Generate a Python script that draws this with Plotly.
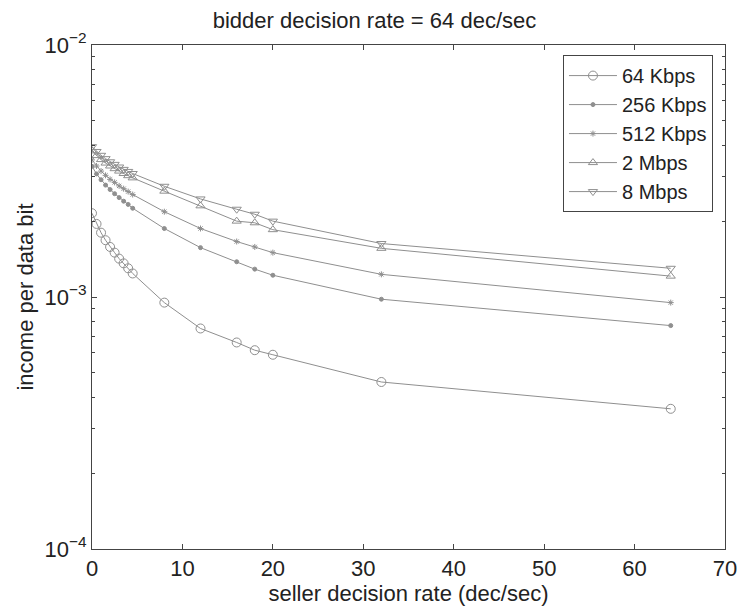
import plotly.graph_objects as go

x_rate = [0, 0.5, 1, 1.5, 2, 2.5, 3, 3.5, 4, 4.5, 8, 12, 16, 18, 20, 32, 64]

kbps64 = [2.15e-3, 1.95e-3, 1.80e-3, 1.68e-3, 1.58e-3, 1.50e-3, 1.42e-3, 1.36e-3, 1.30e-3, 1.24e-3,
          9.5e-4, 7.5e-4, 6.6e-4, 6.15e-4, 5.9e-4, 4.6e-4, 3.6e-4]
kbps256 = [3.30e-3, 3.08e-3, 2.92e-3, 2.78e-3, 2.67e-3, 2.57e-3, 2.48e-3, 2.40e-3, 2.33e-3, 2.25e-3,
           1.87e-3, 1.57e-3, 1.38e-3, 1.29e-3, 1.22e-3, 9.8e-4, 7.7e-4]
kbps512 = [3.50e-3, 3.31e-3, 3.16e-3, 3.04e-3, 2.93e-3, 2.85e-3, 2.76e-3, 2.69e-3, 2.62e-3, 2.55e-3,
           2.18e-3, 1.87e-3, 1.66e-3, 1.58e-3, 1.50e-3, 1.23e-3, 9.5e-4]
mbps2 = [3.80e-3, 3.64e-3, 3.51e-3, 3.40e-3, 3.31e-3, 3.23e-3, 3.16e-3, 3.09e-3, 3.03e-3, 2.97e-3,
         2.63e-3, 2.30e-3, 2.00e-3, 1.97e-3, 1.85e-3, 1.56e-3, 1.21e-3]
mbps8 = [3.95e-3, 3.78e-3, 3.65e-3, 3.54e-3, 3.44e-3, 3.36e-3, 3.28e-3, 3.21e-3, 3.15e-3, 3.09e-3,
         2.75e-3, 2.45e-3, 2.23e-3, 2.13e-3, 2.00e-3, 1.63e-3, 1.30e-3]

series_names = ["64 Kbps", "256 Kbps", "512 Kbps", "2 Mbps", "8 Mbps"]
series_vals = [kbps64, kbps256, kbps512, mbps2, mbps8]
series_symbols = ["circle-open", "circle", "asterisk-open", "triangle-up-open", "triangle-down-open"]
series_sizes = [9, 4, 5, 8, 8]

x_ticks = [0, 10, 20, 30, 40, 50, 60, 70]
y_ticks = [1e-4, 1e-3, 1e-2]
y_ticktext = ["10<sup>−4</sup>", "10<sup>−3</sup>", "10<sup>−2</sup>"]
y_minor = [m * 10.0 ** e for e in (-4, -3) for m in range(2, 10)]

grey = "#8f8f8f"
font_family = "Liberation Sans, Arial, sans-serif"

fig = go.Figure()
for name, vals, sym, sz in zip(series_names, series_vals, series_symbols, series_sizes):
    fig.add_trace(go.Scatter(
        x=x_rate, y=vals, name=name, mode="lines+markers",
        line=dict(color=grey, width=1),
        marker=dict(symbol=sym, size=sz, color=grey, line=dict(color=grey, width=1)),
    ))

fig.update_layout(
    width=749, height=609,
    margin=dict(l=92, r=15, t=45, b=58),
    paper_bgcolor="white", plot_bgcolor="white",
    font=dict(family=font_family, size=21, color="#222"),
    title=dict(text="bidder decision rate = 64 dec/sec", x=0.5, xanchor="center",
               y=1 - 20 / 609, yanchor="middle", font=dict(size=22)),
    showlegend=True,
    legend=dict(x=0.981, y=0.98, xanchor="right", yanchor="top",
                bgcolor="white", bordercolor="#444", borderwidth=1,
                font=dict(size=20), itemwidth=48, tracegroupgap=0),
    xaxis=dict(range=[0, 70], tickvals=x_ticks, ticks="inside", ticklen=5,
               tickfont=dict(size=22),
               showline=True, linecolor="#444", linewidth=1, mirror="ticks",
               showgrid=False, zeroline=False,
               title=dict(text="seller decision rate (dec/sec)", standoff=0, font=dict(size=22))),
    yaxis=dict(type="log", range=[-4, -2], tickvals=y_ticks, ticktext=y_ticktext,
               ticks="inside", ticklen=5, tickfont=dict(size=22),
               minor=dict(tickvals=y_minor, ticks="inside", ticklen=3, tickcolor="#444"),
               showline=True, linecolor="#444", linewidth=1, mirror="ticks",
               showgrid=False, zeroline=False,
               title=dict(text="income per data bit", standoff=4, font=dict(size=22))),
)

fig.write_html("out.html")
